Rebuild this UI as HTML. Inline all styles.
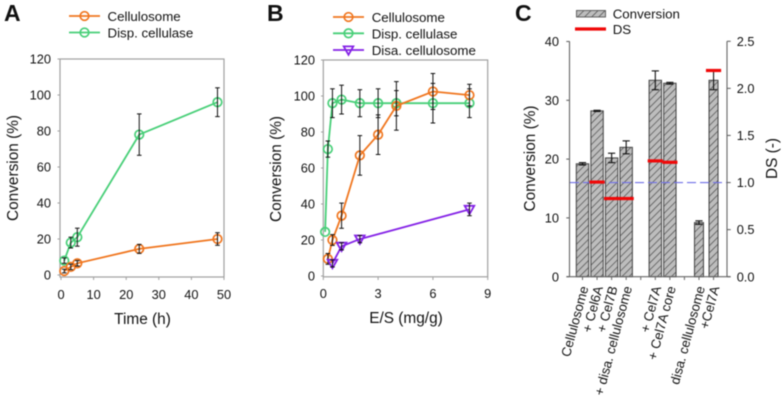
<!DOCTYPE html>
<html>
<head>
<meta charset="utf-8">
<style>
html,body{margin:0;padding:0;background:#fff;width:782px;height:407px;overflow:hidden}
svg{display:block;filter:blur(.5px)}
text{font-family:"Liberation Sans",sans-serif;fill:#111}
</style>
</head>
<body>
<svg id="chart" width="782" height="407" viewBox="0 0 782 407" xmlns="http://www.w3.org/2000/svg">
<defs>
<pattern id="hatch" patternUnits="userSpaceOnUse" width="5" height="5" patternTransform="rotate(45)">
<rect width="5" height="5" fill="#bdbdbd"/>
<line x1="0" y1="0" x2="0" y2="5" stroke="#444" stroke-width="1.3"/>
</pattern>
</defs>
<rect width="782" height="407" fill="#fff"/>
</svg>
<script>
// Panel A
var timeCellulosome = [1, 3, 5, 24, 48];
var convACellulosome = [2.2, 4.5, 6.5, 14.5, 20];
var errACellulosome = [1, 1.5, 1.5, 2.5, 3.5];
var timeDisp = [1, 3, 5, 24, 48];
var convADisp = [8, 18, 21, 78, 96];
var errADisp = [1.5, 3, 5, 11.5, 8];
var ticksAX = [0, 10, 20, 30, 40, 50];
var ticksConv = [0, 20, 40, 60, 80, 100, 120];
// Panel B
var esCellulosome = [0.25, 0.5, 1, 2, 3, 4, 6, 8];
var convBCellulosome = [9.5, 20, 33.5, 67, 78.5, 94.5, 102.5, 100.5];
var errBCellulosome = [3, 3, 7, 11, 11, 13.5, 10, 6];
var esDisp = [0.1, 0.25, 0.5, 1, 2, 3, 4, 6, 8];
var convBDisp = [24.5, 70.5, 96, 98, 96, 96, 96, 96, 96];
var errBDisp = [0, 4.5, 8, 8, 7.5, 8, 7, 11, 8];
var esDisa = [0.5, 1, 2, 8];
var convBDisa = [7, 16.5, 20.5, 37];
var errBDisa = [2, 2, 2, 3.5];
var ticksBX = [0, 3, 6, 9];
// Panel C
var categoriesC = ["Cellulosome", "+ Cel6A", "+ Cel7B", "+ disa. cellulosome", "+ Cel7A", "+ Cel7A core", "disa. cellulosome", "+Cel7A"];
var slotsC = [0, 1, 2, 3, 5, 6, 8, 9];
var conversionC = [19.2, 28.2, 20.2, 22, 33.4, 32.9, 9.2, 33.4];
var errorC = [0.2, 0.1, 0.8, 1.1, 1.6, 0.15, 0.3, 1.6];
var dsC = [null, 1.005, 0.83, 0.83, 1.23, 1.215, null, 2.19];
var ticksCLeft = [0, 10, 20, 30, 40];
var ticksCRight = ["0.0", "0.5", "1.0", "1.5", "2.0", "2.5"];
var dsReference = 1.0;

var NS = "http://www.w3.org/2000/svg";
var svg = document.getElementById("chart");
var ORANGE = "#f0761f", GREEN = "#48cf78", PURPLE = "#8422e6", SPINE = "#a0a0a0", ERR = "#111";

function xA(v){ return 61 + v * 3.26; }
function yA(v){ return 275 - v * 1.8; }
function xB(v){ return 323.3 + v * 18.27; }
function yB(v){ return 276 - v * 1.8; }
function xC(s){ return 582.5 + s * 14.56; }
function yC(v){ return 276.7 - v * 5.88; }
function yDS(v){ return 276.7 - v * 94.16; }

function make(tag, parent, attrs, txt){
  var el = document.createElementNS(NS, tag);
  for (var k in attrs) el.setAttribute(k, attrs[k]);
  if (txt !== undefined) el.textContent = txt;
  parent.appendChild(el);
  return el;
}
function group(parent, name){
  var el = make("g", parent, {});
  
  
  return el;
}
function label(parent, name, x, y, txt, size, anchor, rot, weight){
  var a = {x:x, y:y, "font-size":size, "text-anchor":anchor || "start"};
  if (rot !== undefined) a.transform = "rotate(" + rot + " " + x + " " + y + ")";
  if (weight) a["font-weight"] = weight;
  var el = make("text", parent, a, txt);
  
  
  return el;
}
function seg(parent, name, x1, y1, x2, y2, color, w, dash){
  var a = {x1:x1, y1:y1, x2:x2, y2:y2, stroke:color, "stroke-width":w};
  if (dash) a["stroke-dasharray"] = dash;
  var el = make("line", parent, a);
  
  
  return el;
}
function marker(parent, name, kind, x, y, color){
  var el;
  if (kind === "tri") {
    el = make("path", parent, {d:"M" + (x-4.8) + " " + (y-3.6) + "H" + (x+4.8) + "L" + x + " " + (y+4.8) + "Z", fill:"none", stroke:color, "stroke-width":1.8});
  } else {
    el = make("circle", parent, {cx:x, cy:y, r:4.3, fill:"none", stroke:color, "stroke-width":1.7});
  }
  
  
  return el;
}
function series(parent, name, xs, ys, errs, fx, fy, color, kind){
  var g = group(parent, name + "-series");
  var pts = xs.map(function(x, i){ return fx(x) + "," + fy(ys[i]); }).join(" ");
  var line = make("polyline", g, {points:pts, fill:"none", stroke:color, "stroke-width":1.8});
  
  
  xs.forEach(function(x, i){
    marker(g, name + "-point", kind, fx(x), fy(ys[i]), color);
  });
  xs.forEach(function(x, i){
    if (!errs[i]) return;
    var px = fx(x), t = fy(ys[i] + errs[i]), b = fy(ys[i] - errs[i]);
    seg(g, name + "-error-bar", px, t, px, b, ERR, 1);
    seg(g, name + "-error-cap", px - 2.3, t, px + 2.3, t, ERR, 1);
    seg(g, name + "-error-cap", px - 2.3, b, px + 2.3, b, ERR, 1);
  });
}
function frame(parent, name, l, t, r, b){
  var el = make("rect", parent, {x:l, y:t, width:r-l, height:b-t, fill:"none", stroke:SPINE, "stroke-width":1.2});
  
  
}
function legendEntry(parent, name, x1, x2, y, color, kind, txt, tx){
  var g = group(parent, name);
  seg(g, name + "-line", x1, y, x2, y, color, 1.8);
  marker(g, name + "-marker", kind, (x1 + x2) / 2, y, color);
  label(g, name + "-label", tx, y + 5, txt, 13.3);
}

// ---- Panel A ----
var pA = group(svg, "panel-a");
label(pA, "panel-a-letter", 4, 21, "A", 23, "start", undefined, "bold");
legendEntry(pA, "legend-cellulosome", 69, 100, 16, ORANGE, "circle", "Cellulosome", 107.5);
legendEntry(pA, "legend-disp-cellulase", 69, 100, 32.5, GREEN, "circle", "Disp. cellulase", 107.5);
frame(pA, "plot-frame", 60, 59, 224, 277);
ticksAX.forEach(function(v){
  seg(pA, "x-tick", xA(v), 277, xA(v), 280, SPINE, 1);
  label(pA, "x-tick-label", xA(v), 299, String(v), 12.8, "middle");
});
ticksConv.forEach(function(v){
  seg(pA, "y-tick", 57.5, yA(v), 60, yA(v), SPINE, 1);
  label(pA, "y-tick-label", 51, yA(v) + 4.6, String(v), 12.8, "end");
});
label(pA, "x-axis-title", 142.5, 324, "Time (h)", 15.4, "middle");
label(pA, "y-axis-title", 18, 168, "Conversion (%)", 15.4, "middle", -90);
series(pA, "disp-cellulase", timeDisp, convADisp, errADisp, xA, yA, GREEN, "circle");
series(pA, "cellulosome", timeCellulosome, convACellulosome, errACellulosome, xA, yA, ORANGE, "circle");

// ---- Panel B ----
var pB = group(svg, "panel-b");
label(pB, "panel-b-letter", 267, 21, "B", 23, "start", undefined, "bold");
legendEntry(pB, "legend-cellulosome", 333, 364, 17, ORANGE, "circle", "Cellulosome", 371.7);
legendEntry(pB, "legend-disp-cellulase", 333, 364, 33.3, GREEN, "circle", "Disp. cellulase", 371.7);
legendEntry(pB, "legend-disa-cellulosome", 333, 364, 50, PURPLE, "tri", "Disa. cellulosome", 371.7);
frame(pB, "plot-frame", 323.3, 60, 487.7, 276.8);
ticksBX.forEach(function(v){
  seg(pB, "x-tick", xB(v), 277, xB(v), 280, SPINE, 1);
  label(pB, "x-tick-label", xB(v), 298, String(v), 12.8, "middle");
});
ticksConv.forEach(function(v){
  seg(pB, "y-tick", 321, yB(v), 323.3, yB(v), SPINE, 1);
  label(pB, "y-tick-label", 315, yB(v) + 4.6, String(v), 12.8, "end");
});
label(pB, "x-axis-title", 406, 323, "E/S (mg/g)", 15.4, "middle");
label(pB, "y-axis-title", 281, 169, "Conversion (%)", 15.4, "middle", -90);
series(pB, "disp-cellulase", esDisp, convBDisp, errBDisp, xB, yB, GREEN, "circle");
series(pB, "cellulosome", esCellulosome, convBCellulosome, errBCellulosome, xB, yB, ORANGE, "circle");
series(pB, "disa-cellulosome", esDisa, convBDisa, errBDisa, xB, yB, PURPLE, "tri");

// ---- Panel C ----
var pC = group(svg, "panel-c");
label(pC, "panel-c-letter", 515, 21, "C", 23, "start", undefined, "bold");
var swatch = make("rect", pC, {x:576.5, y:10.5, width:29, height:6.5, fill:"url(#hatch)", stroke:"#555", "stroke-width":0.9});


label(pC, "legend-conversion-label", 612.7, 18.3, "Conversion", 13.3);
seg(pC, "legend-ds-line", 575, 29, 606, 29, "#f00808", 3.2);
label(pC, "legend-ds-label", 612.7, 34, "DS", 13.3);

conversionC.forEach(function(v, i){
  var w = (i >= 6) ? 9 : 12.4;
  var el = make("rect", pC, {x:xC(slotsC[i]) - w / 2, y:yC(v), width:w, height:276.7 - yC(v), fill:"url(#hatch)", stroke:"#444", "stroke-width":1});
  
  
});
conversionC.forEach(function(v, i){
  var px = xC(slotsC[i]), t = yC(v + errorC[i]), b = yC(v - errorC[i]);
  seg(pC, "conversion-error-bar", px, t, px, b, ERR, 1.1);
  seg(pC, "conversion-error-cap", px - 3.6, t, px + 3.6, t, ERR, 1.1);
  seg(pC, "conversion-error-cap", px - 3.6, b, px + 3.6, b, ERR, 1.1);
});
seg(pC, "ds-reference-line", 570, yDS(dsReference), 727, yDS(dsReference), "#7070e8", 1.1, "9 4");
dsC.forEach(function(v, i){
  if (v === null) return;
  var px = xC(slotsC[i]);
  seg(pC, "ds-mark", px - 7.6, yDS(v), px + 7.6, yDS(v), "#f00808", 3.2);
});
seg(pC, "left-axis", 569.5, 41.3, 569.5, 276.7, "#666", 1.1);
seg(pC, "right-axis", 727, 41.3, 727, 276.7, "#666", 1.1);
seg(pC, "bottom-axis", 566.5, 276.7, 730.5, 276.7, "#666", 1.1);
ticksCLeft.forEach(function(v){
  seg(pC, "left-tick", 566.3, yC(v), 569.5, yC(v), "#666", 1.1);
  label(pC, "left-tick-label", 559, yC(v) + 4.6, String(v), 12.8, "end");
});
ticksCRight.forEach(function(v){
  seg(pC, "right-tick", 727, yDS(+v), 730.7, yDS(+v), "#666", 1.1);
  label(pC, "right-tick-label", 736.7, yDS(+v) + 4.6, v, 12.8);
});
[0,1,2,3,4,5,6,7,8,9].forEach(function(s){
  seg(pC, "x-tick", xC(s), 276.7, xC(s), 280, "#666", 1);
});
categoriesC.forEach(function(c, i){
  label(pC, "category-label", xC(slotsC[i]) + 6, 287.5, c, 13.2, "end", -75);
});
label(pC, "left-axis-title", 535, 158.5, "Conversion (%)", 15.4, "middle", -90);
label(pC, "right-axis-title", 777, 158.5, "DS (-)", 15.4, "middle", -90);
</script>
</body>
</html>
